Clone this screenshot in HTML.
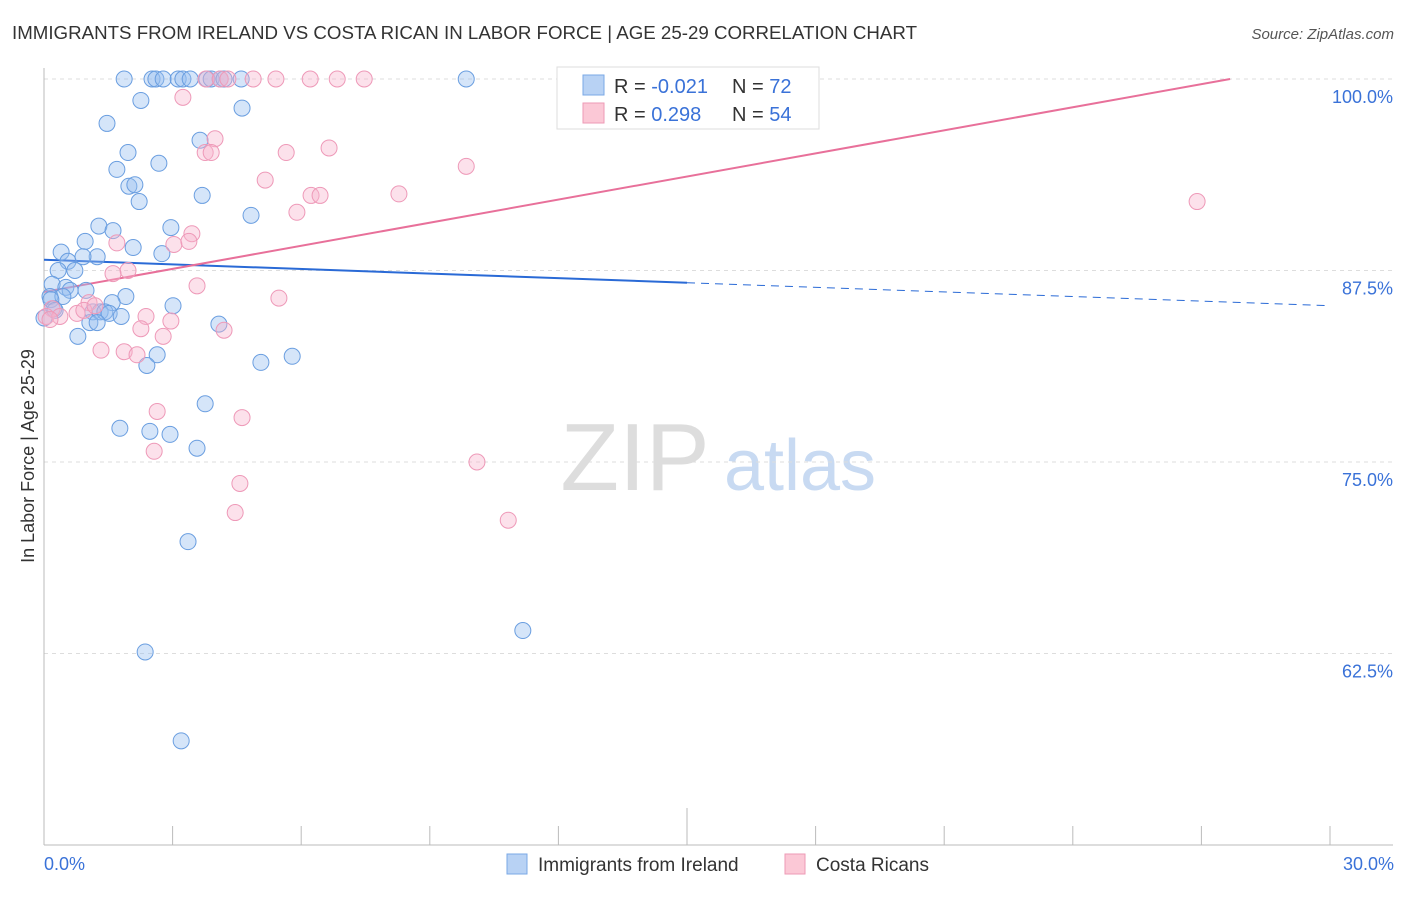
<!DOCTYPE html>
<html><head><meta charset="utf-8"><style>
body{margin:0;background:#fff;font-family:"Liberation Sans",sans-serif;}
svg text{font-family:"Liberation Sans",sans-serif;}
</style></head><body>
<svg id="chart" width="1406" height="892" xmlns="http://www.w3.org/2000/svg">
<text x="12" y="39" font-size="18.5" fill="#333" textLength="905" lengthAdjust="spacingAndGlyphs">IMMIGRANTS FROM IRELAND VS COSTA RICAN IN LABOR FORCE | AGE 25-29 CORRELATION CHART</text>
<text x="1394" y="39" font-size="15" fill="#555" text-anchor="end" font-style="italic">Source: ZipAtlas.com</text>
<text x="34" y="456" font-size="18" fill="#333" text-anchor="middle" transform="rotate(-90 34 456)">In Labor Force | Age 25-29</text>
<g><text x="635" y="490" font-size="96" fill="#ddd" font-family="Liberation Serif" text-anchor="middle">ZIP</text><text x="800" y="490" font-size="72" fill="#c8daf2" text-anchor="middle">atlas</text></g>
<g id="grid"></g><g id="axes"></g><g id="trends"></g><g id="pts"></g>
<g>
<rect x="557" y="67" width="262" height="62" fill="#fff" stroke="#ddd"/>
<rect x="583" y="75" width="21" height="20" fill="#b8d2f4" stroke="#7aa8e6"/>
<rect x="583" y="103" width="21" height="20" fill="#fbc8d6" stroke="#ee9ab5"/>
<text x="614" y="93" font-size="20" fill="#333">R = <tspan fill="#3a72d8">-0.021</tspan></text>
<text x="732" y="93" font-size="20" fill="#333">N = <tspan fill="#3a72d8">72</tspan></text>
<text x="614" y="121" font-size="20" fill="#333">R = <tspan fill="#3a72d8"> 0.298</tspan></text>
<text x="732" y="121" font-size="20" fill="#333">N = <tspan fill="#3a72d8">54</tspan></text>
</g>
<g>
<rect x="507" y="854" width="20" height="20" fill="#b8d2f4" stroke="#7aa8e6"/>
<text x="538" y="871" font-size="19" fill="#333">Immigrants from Ireland</text>
<rect x="785" y="854" width="20" height="20" fill="#fbc8d6" stroke="#ee9ab5"/>
<text x="816" y="871" font-size="19" fill="#333">Costa Ricans</text>
</g>
</svg>
<script>
const yTicks=[100,87.5,75,62.5];
const yTickLabels=["100.0%","87.5%","75.0%","62.5%"];
const xTickLabels=["0.0%","30.0%"];
const blueX=[1.87,2.52,2.61,2.78,3.13,3.24,3.41,3.80,3.90,4.11,4.20,4.60,9.85,2.26,4.62,1.47,3.64,1.96,2.68,1.70,1.98,2.12,3.69,2.22,4.83,1.28,2.96,1.61,0.96,2.08,0.40,2.75,0.56,1.24,0.91,0.33,0.72,0.19,0.51,0.61,0.98,0.14,1.91,0.44,1.59,3.01,0.16,0.23,1.14,1.31,1.42,1.52,1.80,0,1.07,1.24,4.08,0.79,2.64,5.79,5.06,2.40,3.76,1.77,2.47,2.94,3.57,3.36,11.17,2.36,3.20,0.26];
const blueY=[100,100,100,100,100,100,100,100,100,100,100,100,100,98.6,98.1,97.1,96.0,95.2,94.5,94.1,93.0,93.1,92.4,92.0,91.1,90.4,90.3,90.1,89.4,89.0,88.7,88.6,88.1,88.4,88.4,87.5,87.5,86.6,86.4,86.2,86.2,85.8,85.8,85.8,85.4,85.2,85.6,85.0,84.8,84.8,84.8,84.7,84.5,84.4,84.1,84.1,84.0,83.2,82.0,81.9,81.5,81.3,78.8,77.2,77.0,76.8,75.9,69.8,64.0,62.6,56.8,84.9];
const pinkX=[3.78,4.11,4.29,4.88,5.41,6.21,6.84,7.47,14.84,16.64,3.24,3.99,3.76,3.90,5.65,6.65,9.85,5.16,6.23,6.44,8.28,5.90,26.90,3.45,1.70,3.03,3.38,1.96,1.61,3.57,5.48,1.05,0.19,0.05,0.37,0.77,2.38,2.96,2.26,4.20,2.78,1.33,1.87,2.17,2.64,4.62,2.57,10.10,4.57,4.46,10.83,0.14,0.93,1.19];
const pinkY=[100,100,100,100,100,100,100,100,100,100,98.8,96.1,95.2,95.2,95.2,95.5,94.3,93.4,92.4,92.4,92.5,91.3,92.0,89.9,89.3,89.2,89.4,87.5,87.3,86.5,85.7,85.4,85.0,84.5,84.5,84.7,84.5,84.2,83.7,83.6,83.2,82.3,82.2,82.0,78.3,77.9,75.7,75.0,73.6,71.7,71.2,84.3,84.9,85.2];
const blueTrend=[88.2,85.2];
const pinkTrend=[86.1,100,27.67];
const NS="http://www.w3.org/2000/svg";
const sx=v=>44+v/30*1286, sy=v=>79+(100-v)*15.32;
function mk(t,a,p){const e=document.createElementNS(NS,t);for(const k in a)e.setAttribute(k,a[k]);p.appendChild(e);return e;}
const grid=document.getElementById('grid'),axes=document.getElementById('axes'),tr=document.getElementById('trends'),pts=document.getElementById('pts');
yTicks.forEach((t,i)=>{
 const l=mk('line',{x1:44,x2:1393,y1:sy(t),y2:sy(t),stroke:'#ddd','stroke-dasharray':'4,4'},grid);
 
 
 const tx=mk('text',{x:1393,y:sy(t)+24,'font-size':18,fill:'#3a72d8','text-anchor':'end'},grid);tx.textContent=yTickLabels[i];
 
 
});
mk('line',{x1:44,x2:44,y1:68,y2:845,stroke:'#bbb'},axes);
mk('line',{x1:44,x2:1393,y1:845,y2:845,stroke:'#bbb'},axes);
for(let i=1;i<=10;i++){const t=mk('line',{x1:sx(i*3),x2:sx(i*3),y1:i==5?808:826,y2:845,stroke:'#bbb'},axes);
 
 }
[0,30].forEach((v,i)=>{const t=mk('text',{x:i?1394:44,y:870,'font-size':18,fill:'#3a72d8','text-anchor':i?'end':'start'},axes);t.textContent=xTickLabels[i];
 
 });
const by=x=>blueTrend[0]+(blueTrend[1]-blueTrend[0])*x/30;
let l=mk('line',{x1:sx(0),y1:sy(by(0)),x2:sx(15),y2:sy(by(15)),stroke:'#2a6ad6','stroke-width':2},tr);


l=mk('line',{x1:sx(15),y1:sy(by(15)),x2:sx(30),y2:sy(by(30)),stroke:'#2a6ad6','stroke-width':1,'stroke-dasharray':'8,6'},tr);


l=mk('line',{x1:sx(0),y1:sy(pinkTrend[0]),x2:sx(pinkTrend[2]),y2:sy(pinkTrend[1]),stroke:'#e8709a','stroke-width':2},tr);


blueX.forEach((x,i)=>{const c=mk('circle',{cx:sx(x),cy:sy(blueY[i]),r:8,fill:'rgba(150,190,240,0.4)',stroke:'#6a9ee0','stroke-width':1},pts);
 
 });
pinkX.forEach((x,i)=>{const c=mk('circle',{cx:sx(x),cy:sy(pinkY[i]),r:8,fill:'rgba(248,180,204,0.4)',stroke:'#ee99b8','stroke-width':1},pts);
 
 });
</script>
</body></html>
